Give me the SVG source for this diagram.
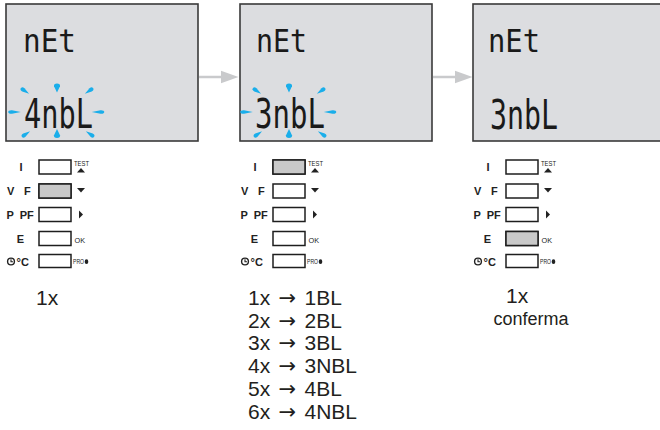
<svg xmlns="http://www.w3.org/2000/svg" width="660" height="430" viewBox="0 0 660 430">
<defs>
<style>
.lcd{fill:#dcdde0;stroke:#3a3a3a;stroke-width:1.6}
.seg{font-family:"DejaVu Sans Mono",monospace;fill:#1a1a1a}
.btn{fill:#ffffff;stroke:#1e1e1e;stroke-width:1.5}
.on{fill:#c9c9c9;stroke:#1e1e1e;stroke-width:1.5}
.lbl{font-family:"Liberation Sans",Arial,sans-serif;font-weight:bold;font-size:11px;fill:#222}
.sm{font-family:"Liberation Sans",Arial,sans-serif;fill:#222}
.cap{font-family:"Liberation Sans",Arial,sans-serif;fill:#231f20}
.arr{font-family:"DejaVu Sans",sans-serif}
.blink{fill:#1aaeea}
.conn{stroke:#c9cacc;stroke-width:2.5;fill:none}
.head{fill:#c9cacc}
.tri{fill:#222}
</style>
<path id="drop" d="M-5,0 Q-5,-2.6 -2,-2.3 L5,0 L-2,2.3 Q-5,2.6 -5,0Z"/>
<g id="blinks" class="blink">
<use href="#drop" transform="translate(0.5,-24) rotate(90) scale(0.9,1.3)"/>
<use href="#drop" transform="translate(0.5,21.5) rotate(-90) scale(0.9,1.3)"/>
<use href="#drop" transform="translate(-42,0) scale(1.25,0.75)"/>
<use href="#drop" transform="translate(41.5,0) rotate(180) scale(1.25,0.75)"/>
<use href="#drop" transform="translate(-31.5,-21) rotate(35) scale(1,0.85)"/>
<use href="#drop" transform="translate(32.5,-21) rotate(145) scale(1,0.85)"/>
<use href="#drop" transform="translate(-30.5,22) rotate(-35) scale(1,0.85)"/>
<use href="#drop" transform="translate(33.5,22) rotate(-145) scale(1,0.85)"/>
</g>
<g id="keys">
<rect class="btn" x="39" y="160" width="32" height="14"/>
<rect class="btn" x="39" y="184" width="32" height="14"/>
<rect class="btn" x="39" y="207.5" width="32" height="14"/>
<rect class="btn" x="39" y="231.5" width="32" height="14"/>
<rect class="btn" x="39" y="254.5" width="32" height="13"/>
<text class="lbl" x="21" y="171" text-anchor="middle">I</text>
<text class="lbl" x="7" y="195" word-spacing="6.5">V F</text>
<text class="lbl" x="6.5" y="218.5" word-spacing="3">P PF</text>
<text class="lbl" x="20.5" y="242.5" text-anchor="middle">E</text>
<circle cx="11" cy="261.5" r="3.4" fill="none" stroke="#222" stroke-width="1.4"/>
<path d="M11,259.3 V261.7 H13" fill="none" stroke="#222" stroke-width="1.1"/>
<text class="lbl" x="16.5" y="265.5">°C</text>
<text class="sm" x="74" y="165.5" style="font-size:7.5px" textLength="15" lengthAdjust="spacingAndGlyphs">TEST</text>
<path class="tri" d="M77,172.5 H85 L81,168 Z"/>
<path class="tri" d="M77,188 H85 L81,192.5 Z"/>
<path class="tri" d="M79,210.5 V218.5 L83,214.5 Z"/>
<text class="sm" x="74.5" y="242.5" style="font-size:8px" textLength="10.5" lengthAdjust="spacingAndGlyphs">OK</text>
<text class="sm" x="73" y="264" style="font-size:6.5px" textLength="11" lengthAdjust="spacingAndGlyphs">PRO</text>
<ellipse cx="86.5" cy="261.7" rx="1.8" ry="2.4" fill="#222"/>
</g>
</defs>

<g id="connectors">
<line class="conn" x1="199" y1="77" x2="223" y2="77"/>
<path class="head" d="M221,70.7 L238.5,77 L221,83.3 Z"/>
<line class="conn" x1="433" y1="77" x2="457" y2="77"/>
<path class="head" d="M455,70.7 L472.5,77 L455,83.3 Z"/>
</g>

<g id="step1">
<rect class="lcd" x="6" y="4" width="192" height="137"/>
<text class="seg" x="23" y="52" font-size="31.5" textLength="53" lengthAdjust="spacingAndGlyphs">nEt</text>
<text class="seg" x="24" y="128" font-size="40" textLength="69" lengthAdjust="spacingAndGlyphs">4nbL</text>
<use href="#blinks" transform="translate(56.5,112)"/>
<use href="#keys"/>
<rect class="on" x="39" y="184" width="32" height="14"/>
<text class="cap" x="36" y="305" style="font-size:21px">1x</text>
</g>

<g id="step2">
<rect class="lcd" x="240" y="4" width="192" height="137"/>
<text class="seg" x="256" y="52" font-size="31.5" textLength="51" lengthAdjust="spacingAndGlyphs">nEt</text>
<text class="seg" x="255" y="128" font-size="40" textLength="70" lengthAdjust="spacingAndGlyphs">3nbL</text>
<use href="#blinks" transform="translate(288.5,112)"/>
<use href="#keys" transform="translate(234,0)"/>
<rect class="on" x="273" y="160" width="32" height="14"/>
<g class="cap" style="font-size:21px" word-spacing="2.5">
<text x="248" y="305">1x <tspan class="arr">→</tspan> 1BL</text>
<text x="248" y="327.7">2x <tspan class="arr">→</tspan> 2BL</text>
<text x="248" y="350.4">3x <tspan class="arr">→</tspan> 3BL</text>
<text x="248" y="373.1">4x <tspan class="arr">→</tspan> 3NBL</text>
<text x="248" y="395.8">5x <tspan class="arr">→</tspan> 4BL</text>
<text x="248" y="418.5">6x <tspan class="arr">→</tspan> 4NBL</text>
</g>
</g>

<g id="step3">
<rect class="lcd" x="473" y="4" width="200" height="137"/>
<text class="seg" x="488" y="52" font-size="31.5" textLength="52" lengthAdjust="spacingAndGlyphs">nEt</text>
<text class="seg" x="490" y="128.5" font-size="40" textLength="68" lengthAdjust="spacingAndGlyphs">3nbL</text>
<use href="#keys" transform="translate(467,0)"/>
<rect class="on" x="506" y="231.5" width="32" height="14"/>
<text class="cap" x="506" y="303" style="font-size:21px">1x</text>
<text class="cap" x="531" y="325" style="font-size:18px" text-anchor="middle">conferma</text>
</g>
</svg>
